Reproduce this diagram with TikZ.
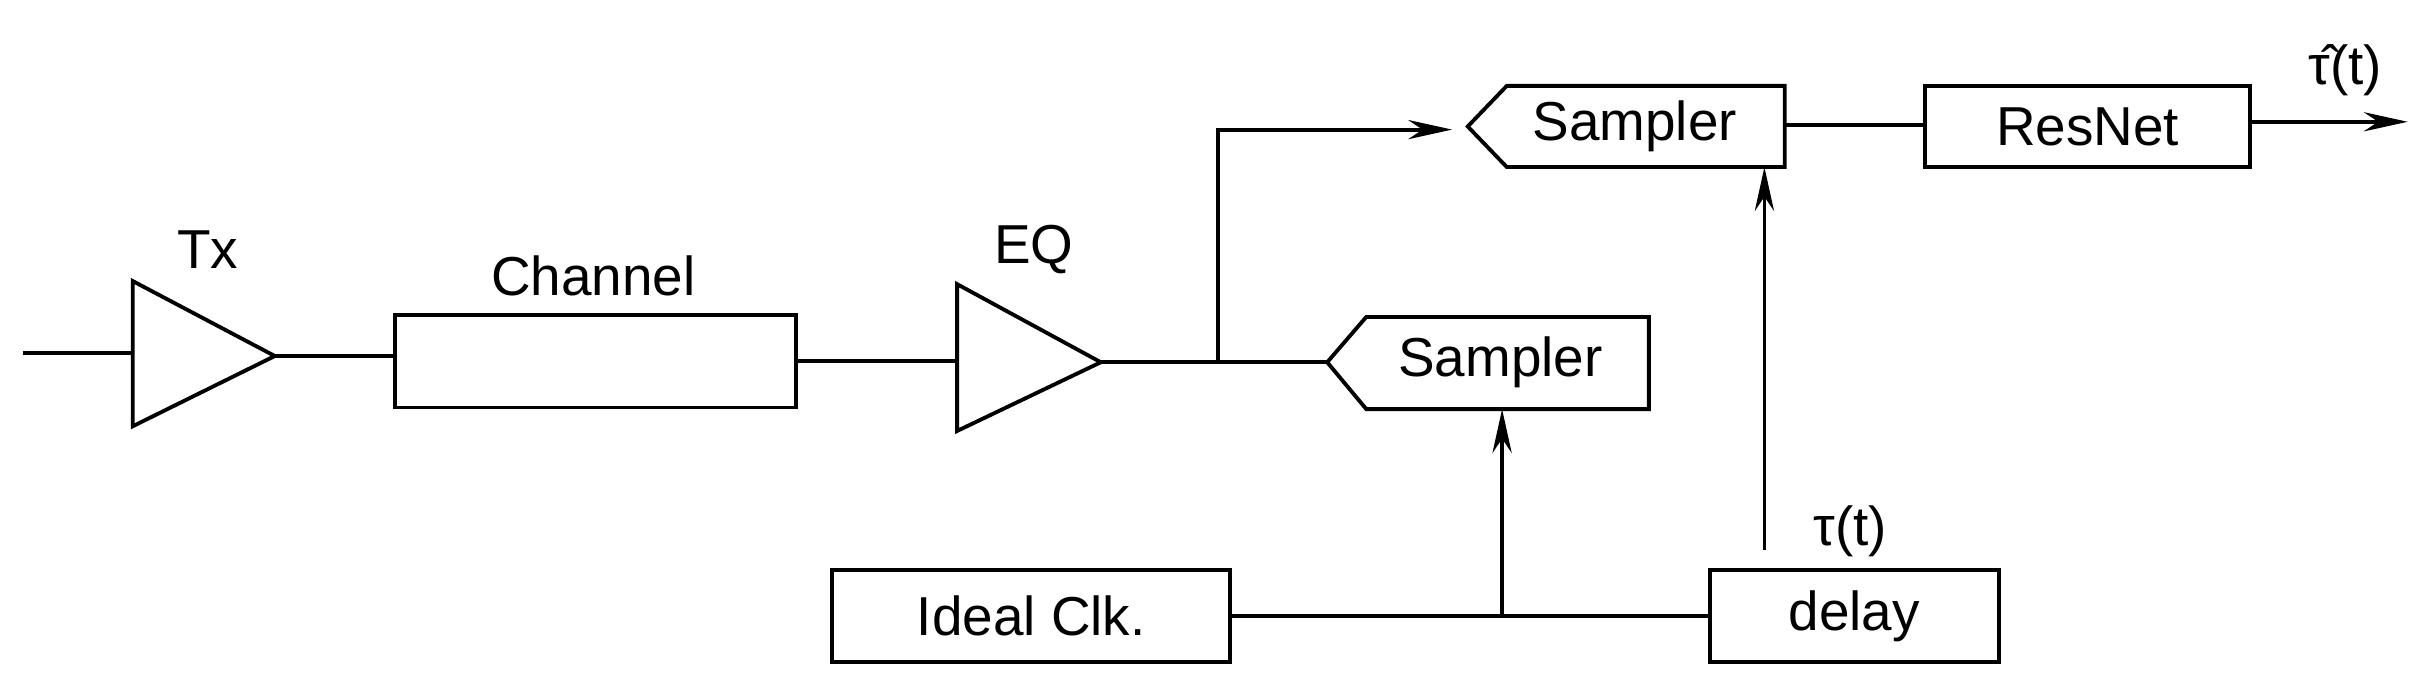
\documentclass[tikz,border=0pt]{standalone}
\usepackage{fontspec}
\setmainfont{Liberation Sans}
\usetikzlibrary{arrows.meta}
\begin{document}
\begin{tikzpicture}[x=0.02cm,y=-0.02cm,line width=1.4pt,
  lbl/.style={font=\fontsize{20}{24}\selectfont,inner sep=0},
  box/.style={draw,rectangle,font=\fontsize{20}{24}\selectfont},
  arr/.style={-{Stealth[length=16pt,width=7pt]}}]
\useasboundingbox (0,0) rectangle (1555,439);
% Tx
\draw (85,180) -- (176,228) -- (85,273) -- cycle;
\coordinate (txin) at (85,226); \coordinate (txout) at (176,228);
\coordinate (in) at (15,226);
\node[lbl] (txl) at (133,160) {Tx};
% Channel
\node[box,minimum width=257*0.02cm,minimum height=59*0.02cm] (ch) at (381.5,231.5) {};
\node[lbl] (chl) at (380,177) {Channel};
% EQ
\draw (613,182) -- (705,232) -- (613,276) -- cycle;
\coordinate (eqin) at (613,231); \coordinate (eqout) at (705,232);
\node[lbl] (eql) at (662,160) {EQ};
% Samplers
\draw (940,81) -- (965,55) -- (1143,55) -- (1143,107) -- (965,107) -- cycle;
\node[lbl] (s1) at (1047,81) {Sampler};
\coordinate (s1in) at (940,81); \coordinate (s1out) at (1143,80); \coordinate (s1b) at (1130,107);
\draw (850,232) -- (875,203) -- (1056,203) -- (1056,262) -- (875,262) -- cycle;
\node[lbl] (s2) at (961,232) {Sampler};
\coordinate (s2in) at (850,232); \coordinate (s2b) at (962,262);
% ResNet
\node[box,minimum width=208*0.02cm,minimum height=52*0.02cm] (rn) at (1337,81) {ResNet};
\coordinate (out) at (1542,78);
\node[lbl] (tauhat) at (1502,45) {τ̂(t)};
% Ideal clk / delay
\node[box,minimum width=255*0.02cm,minimum height=59*0.02cm] (clk) at (660.5,394.5) {Ideal Clk.};
\node[box,minimum width=185*0.02cm,minimum height=59*0.02cm] (dl) at (1187.5,394.5) {delay};
\node[lbl] (tau) at (1185,340) {τ(t)};
\coordinate (jc) at (962,395); \coordinate (jb) at (780,232); \coordinate (jt) at (780,83);
\coordinate (dt) at (1130,352);
% connectors
\draw (in) -- (txin);
\draw (txout) -- (ch.west |- txout);
\draw (ch.east |- eqin) -- (eqin);
\draw (eqout) -- (s2in);
\draw[arr] (jb) -- (jt) -- (930,83);
\draw (s1out) -- (rn.west |- s1out);
\draw[arr] (rn.east |- out) -- (out);
\draw (clk.east) -- (dl.west);
\draw[arr] (jc) -- (s2b);
\draw[arr] (dt) -- (s1b);
\end{tikzpicture}
\end{document}
